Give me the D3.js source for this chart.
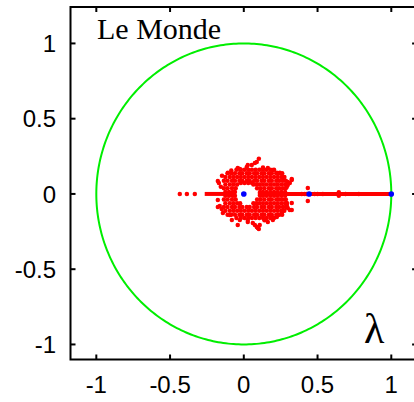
<!DOCTYPE html>
<html><head><meta charset="utf-8">
<script src="https://cdn.jsdelivr.net/npm/d3@7"></script>
<style>html,body{margin:0;padding:0;background:#fff;} svg{display:block;}</style>
</head><body>
<svg id="chart" width="414" height="402"></svg>
<script>
// ---- data ----
const xTicks = [-1, -0.5, 0, 0.5, 1];
const yTicks = [-1, -0.5, 0, 0.5, 1];
const xDomain = [-1.175, 1.175];
const yDomain = [-1.1, 1.242];
const title = "Le Monde";
const varLabel = "λ";

// dense run of real eigenvalues along the real axis
const realSegments = [[-0.265, -0.055], [0.095, 1.0]];
// isolated real eigenvalues
const realDots = [-0.434, -0.386, -0.332, 0.393, 0.413, 0.427, 0.48, 0.5, 0.536, 0.644, 0.69, 0.78];

// dense bulk of complex eigenvalues, listed row by row (imaginary part, then real parts)
const coreRowsY = [0.16, 0.1375, 0.1125, 0.0875, 0.072, 0.0625, 0.0375, 0.0125,
                   -0.0125, -0.0375, -0.0625, -0.0875, -0.1125, -0.1375, -0.16];
const coreRowsX = [
  [-0.05, -0.02, 0.005, 0.03, 0.055, 0.08, 0.105, 0.13, 0.155, 0.18, 0.205],
  [-0.11, -0.085, -0.06, -0.03, -0.01, 0.02, 0.04, 0.07, 0.09, 0.12, 0.14, 0.17, 0.19, 0.22, 0.24, 0.26],
  [-0.125, -0.095, -0.07, -0.045, -0.02, 0.005, 0.03, 0.055, 0.08, 0.105, 0.13, 0.155, 0.18, 0.205, 0.23, 0.255, 0.275],
  [-0.135, -0.11, -0.08, -0.06, -0.03, -0.01, 0.02, 0.04, 0.07, 0.09, 0.12, 0.14, 0.17, 0.19, 0.22, 0.24, 0.265, 0.285],
  [-0.02, 0.005, 0.03, 0.055],
  [-0.125, -0.095, -0.07, -0.045, 0.065, 0.085, 0.105, 0.13, 0.155, 0.18, 0.205, 0.23, 0.255, 0.28],
  [-0.135, -0.11, -0.08, -0.055, 0.09, 0.115, 0.14, 0.17, 0.19, 0.22, 0.24, 0.265, 0.285],
  [-0.125, -0.1, -0.075, -0.06, 0.11, 0.13, 0.155, 0.18, 0.205, 0.23, 0.255, 0.28],
  [-0.125, -0.1, -0.075, -0.06, 0.11, 0.13, 0.155, 0.18, 0.205, 0.23, 0.255, 0.28],
  [-0.135, -0.11, -0.08, -0.055, 0.09, 0.115, 0.14, 0.17, 0.19, 0.22, 0.24, 0.265, 0.285],
  [-0.125, -0.095, -0.07, -0.045, -0.025, 0.065, 0.085, 0.105, 0.13, 0.155, 0.18, 0.205, 0.23, 0.255, 0.28],
  [-0.135, -0.11, -0.08, -0.06, -0.03, -0.01, 0.02, 0.04, 0.07, 0.09, 0.12, 0.14, 0.17, 0.19, 0.22, 0.24, 0.265, 0.285],
  [-0.125, -0.095, -0.07, -0.045, -0.02, 0.005, 0.03, 0.055, 0.08, 0.105, 0.13, 0.155, 0.18, 0.205, 0.23, 0.255, 0.275],
  [-0.11, -0.085, -0.06, -0.03, -0.01, 0.02, 0.04, 0.07, 0.09, 0.12, 0.14, 0.17, 0.19, 0.22, 0.24, 0.26],
  [-0.05, -0.02, 0.005, 0.03, 0.055, 0.08, 0.105, 0.13, 0.155, 0.18, 0.205]
];

// scattered complex eigenvalues around the bulk [re, im]
const scatter = [
  [-0.169, 0.073], [-0.176, 0.086], [-0.156, 0.047], [-0.027, 0.166], [-0.041, 0.173],
  [0.020, 0.179], [0.027, 0.193], [0.054, 0.193], [0.075, 0.206], [0.088, 0.213], [0.102, 0.233],
  [-0.108, 0.140], [-0.085, 0.155], [0.163, 0.173], [0.197, 0.159], [0.224, 0.140], [0.244, 0.140],
  [0.264, 0.113], [0.271, 0.100], [0.298, 0.080], [0.325, 0.100], [0.298, 0.060],
  [0.292, 0.047], [0.312, 0.073], [0.325, 0.093], [0.434, 0.040], [0.130, 0.175],
  [-0.176, -0.040], [-0.163, -0.080], [-0.176, -0.086], [-0.142, -0.126], [-0.095, -0.140],
  [-0.081, -0.173], [-0.041, -0.206], [-0.027, -0.173], [0.027, -0.173], [0.027, -0.186],
  [0.061, -0.193], [0.075, -0.206], [0.095, -0.226], [0.088, -0.219], [0.102, -0.233],
  [0.108, -0.206], [0.163, -0.186], [0.190, -0.153], [0.197, -0.173], [0.224, -0.153],
  [0.231, -0.140], [0.258, -0.120], [0.258, -0.133], [0.298, -0.093], [0.292, -0.073],
  [0.292, -0.060], [0.325, -0.106], [0.325, -0.060], [0.312, -0.106], [0.434, -0.047],
  [0.140, -0.175], [-0.150, -0.100], [-0.148, 0.120],
  [0.644, 0.012], [0.644, -0.012]
];

// highlighted eigenvalues (blue)
const blueRe = [0, 0.443, 1.0];
const blueIm = [0, 0, 0];

// ---- drawing ----
const svg = d3.select("#chart");
const x = d3.scaleLinear().domain(xDomain).range([70.5, 417.1]);
const y = d3.scaleLinear().domain(yDomain).range([359.5, 7]);

// unit circle
const circ = d3.range(0, 361, 1).map(a => [Math.cos(a * Math.PI / 180), Math.sin(a * Math.PI / 180)]);
svg.append("path")
  .attr("d", d3.line().x(d => x(d[0])).y(d => y(d[1]))(circ))
  .attr("fill", "none").attr("stroke", "#00ee00").attr("stroke-width", 2);

const red = "#ff0000";

svg.selectAll("line.real").data(realSegments).enter().append("line")
  .attr("class", "real")
  .attr("x1", d => x(d[0])).attr("x2", d => x(d[1]))
  .attr("y1", y(0)).attr("y2", y(0))
  .attr("stroke", red).attr("stroke-width", 4);

const corePts = [];
coreRowsY.forEach((im, i) => coreRowsX[i].forEach(re => corePts.push([re, im])));
const allRed = corePts.concat(scatter).concat(realDots.map(re => [re, 0]));

svg.append("g").selectAll("circle").data(allRed).enter().append("circle")
  .attr("cx", d => x(d[0])).attr("cy", d => y(d[1])).attr("r", 2.25).attr("fill", red);

svg.append("g").selectAll("circle").data(blueRe).enter().append("circle")
  .attr("cx", d => x(d)).attr("cy", (d, i) => y(blueIm[i])).attr("r", 2.8).attr("fill", "#0000ff");

// frame
const [x0, x1] = x.range(), [y0, y1] = y.range();
svg.append("rect").attr("x", x0).attr("y", y1).attr("width", x1 - x0).attr("height", y0 - y1)
  .attr("fill", "none").attr("stroke", "#000").attr("stroke-width", 2);

const tl = 5;
const ticks = svg.append("g").attr("stroke", "#000").attr("stroke-width", 2);
xTicks.forEach(t => {
  ticks.append("line").attr("x1", x(t)).attr("x2", x(t)).attr("y1", y0).attr("y2", y0 - tl);
  ticks.append("line").attr("x1", x(t)).attr("x2", x(t)).attr("y1", y1).attr("y2", y1 + tl);
});
yTicks.forEach(t => {
  ticks.append("line").attr("x1", x0).attr("x2", x0 + tl).attr("y1", y(t)).attr("y2", y(t));
  ticks.append("line").attr("x1", x1).attr("x2", x1 - tl).attr("y1", y(t)).attr("y2", y(t));
});

const font = "'Liberation Sans', Arial, Helvetica, sans-serif";
svg.append("g").selectAll("text").data(xTicks).enter().append("text")
  .attr("x", d => x(d)).attr("y", 393).attr("text-anchor", "middle")
  .attr("font-family", font).attr("font-size", 24).text(d => String(d));
svg.append("g").selectAll("text").data(yTicks).enter().append("text")
  .attr("x", 56).attr("y", d => y(d)).attr("dy", "0.36em").attr("text-anchor", "end")
  .attr("font-family", font).attr("font-size", 24).text(d => String(d));

const serif = "'Liberation Serif', 'Times New Roman', Times, serif";
svg.append("text").attr("x", 97).attr("y", 39).attr("font-family", serif).attr("font-size", 30).text(title);
svg.append("text").attr("x", 364).attr("y", 343).attr("font-family", serif).attr("font-size", 42).text(varLabel);
</script>
</body></html>
